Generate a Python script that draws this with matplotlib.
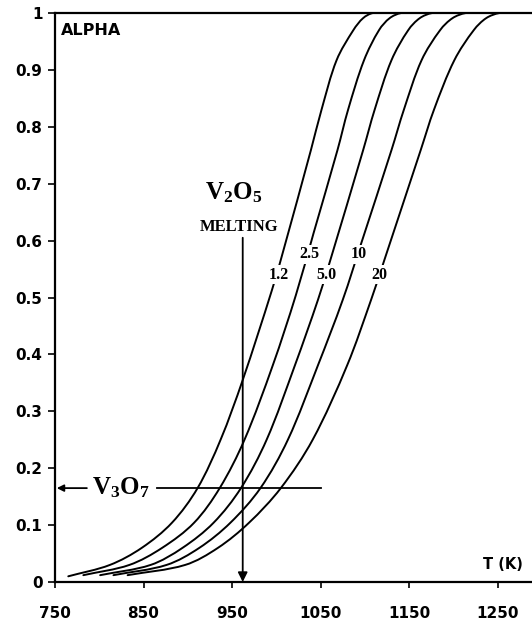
import matplotlib
matplotlib.use("Agg")
import numpy as np
import matplotlib.pyplot as plt
from matplotlib.path import Path
from matplotlib.patches import PathPatch

plt.rcParams['mathtext.fontset'] = 'custom'
plt.rcParams['mathtext.rm'] = 'Liberation Serif:bold'
plt.rcParams['mathtext.it'] = 'Liberation Serif:bold'
plt.rcParams['mathtext.bf'] = 'Liberation Serif:bold'

# Fraction converted (ALPHA) vs temperature for several heating rates
rate_labels = ["1.2", "2.5", "5.0", "10", "20"]

t_12 = [765, 812, 848, 882, 911, 937, 962, 995, 1008, 1039, 1051, 1068, 1087, 1098, 1109, 1125]
a_12 = [0.010, 0.030, 0.060, 0.104, 0.165, 0.250, 0.355, 0.513, 0.583, 0.759, 0.830, 0.917, 0.970, 0.991, 1.0, 1.0]

t_25 = [782, 834, 871, 907, 936, 964, 996, 1022, 1042, 1069, 1081, 1099, 1116, 1128, 1141, 1157]
a_25 = [0.012, 0.030, 0.060, 0.104, 0.165, 0.250, 0.381, 0.504, 0.613, 0.759, 0.830, 0.917, 0.970, 0.991, 1.0, 1.0]

t_50 = [801, 858, 894, 929, 960, 989, 1021, 1047, 1061, 1098, 1111, 1130, 1149, 1162, 1176, 1192]
a_50 = [0.012, 0.030, 0.060, 0.104, 0.165, 0.250, 0.381, 0.496, 0.566, 0.759, 0.830, 0.917, 0.970, 0.991, 1.0, 1.0]

t_10 = [816, 876, 913, 948, 982, 1013, 1047, 1075, 1096, 1130, 1144, 1164, 1185, 1199, 1214, 1230]
a_10 = [0.012, 0.030, 0.060, 0.104, 0.165, 0.250, 0.381, 0.496, 0.596, 0.759, 0.830, 0.917, 0.970, 0.991, 1.0, 1.0]

t_20 = [832, 897, 934, 969, 1005, 1041, 1080, 1107, 1122, 1163, 1178, 1201, 1223, 1237, 1252, 1268]
a_20 = [0.012, 0.030, 0.060, 0.104, 0.165, 0.250, 0.381, 0.496, 0.566, 0.759, 0.830, 0.917, 0.970, 0.991, 1.0, 1.0]

# Where each rate label sits on its curve
label_t = [1003, 1037, 1057, 1093, 1116]
label_a = [0.540, 0.576, 0.540, 0.576, 0.540]

x_ticks = [750, 850, 950, 1050, 1150, 1250]
y_ticks = [0, 0.1, 0.2, 0.3, 0.4, 0.5, 0.6, 0.7, 0.8, 0.9, 1]
y_tick_labels = ["0", "0.1", "0.2", "0.3", "0.4", "0.5", "0.6", "0.7", "0.8", "0.9", "1"]

melt_t = 962        # V2O5 melting point (K)
melt_top = 0.605
v3o7_alpha = 0.165  # V3O7 composition level
v3o7_line = (865, 1050)


def smooth_path(ax, xs, ys):
    """Smooth cubic Bezier through the points, tangents by chord length in display space."""
    P = ax.transData.transform(np.column_stack([xs, ys]))
    n = len(P)
    d = np.hypot(*np.diff(P, axis=0).T)
    m = np.zeros_like(P)
    m[0] = (P[1] - P[0]) / d[0]
    m[-1] = (P[-1] - P[-2]) / d[-1]
    for i in range(1, n - 1):
        m[i] = (P[i + 1] - P[i - 1]) / (d[i - 1] + d[i])
    verts = [P[0]]
    codes = [Path.MOVETO]
    for i in range(n - 1):
        verts += [P[i] + m[i] * d[i] / 3, P[i + 1] - m[i + 1] * d[i] / 3, P[i + 1]]
        codes += [Path.CURVE4] * 3
    verts = ax.transData.inverted().transform(np.array(verts))
    return Path(verts, codes)


fig = plt.figure(figsize=(5.32, 6.20), dpi=100)
ax = fig.add_axes([55 / 532, 38 / 620, 487 / 532, 569 / 620])
ax.set_xlim(750, 1300)
ax.set_ylim(0, 1)

for t, a in [(t_12, a_12), (t_25, a_25), (t_50, a_50), (t_10, a_10), (t_20, a_20)]:
    ax.add_patch(PathPatch(smooth_path(ax, t, a), fill=False, edgecolor='black',
                           lw=1.4, capstyle='round', joinstyle='round'))

for lab, lt, la in zip(rate_labels, label_t, label_a):
    ax.text(lt, la, lab, ha='center', va='center', fontsize=11.5,
            family='Liberation Serif', weight='bold',
            bbox=dict(fc='white', ec='none', pad=1.0))

# V2O5 melting marker
ax.annotate('', xy=(melt_t, 0), xytext=(melt_t, melt_top),
            arrowprops=dict(arrowstyle='-|>', lw=1.3, color='black',
                            mutation_scale=14, shrinkA=0, shrinkB=0))
ax.text(952, 0.684, r'$\mathrm{V_2O_5}$', ha='center', va='center', fontsize=18)
ax.text(958, 0.624, 'MELTING', ha='center', va='center', fontsize=12,
        family='Liberation Serif', weight='bold')

# V3O7 level
ax.plot(v3o7_line, [v3o7_alpha, v3o7_alpha], color='black', lw=1.3)
ax.annotate('', xy=(752, v3o7_alpha), xytext=(786, v3o7_alpha),
            arrowprops=dict(arrowstyle='-|>', lw=1.3, color='black',
                            mutation_scale=10, shrinkA=0, shrinkB=0))
ax.text(824, v3o7_alpha, r'$\mathrm{V_3O_7}$', ha='center', va='center', fontsize=18)

ax.text(0.012, 0.983, 'ALPHA', transform=ax.transAxes, ha='left', va='top',
        fontsize=11.5, family='DejaVu Sans', weight='bold')
ax.text(1233, 0.018, 'T (K)', ha='left', va='bottom', fontsize=10.5,
        family='DejaVu Sans', weight='bold')

ax.set_xticks(x_ticks)
ax.set_xticklabels([str(v) for v in x_ticks])
ax.set_yticks(y_ticks)
ax.set_yticklabels(y_tick_labels)
for lbl in ax.get_xticklabels() + ax.get_yticklabels():
    lbl.set_family('DejaVu Sans')
    lbl.set_weight('bold')
    lbl.set_fontsize(11)
ax.tick_params(axis='x', direction='out', length=4, width=1.2, pad=13)
ax.tick_params(axis='y', direction='out', length=5, width=1.2, pad=4)

ax.spines['right'].set_visible(False)
for s in ['left', 'bottom', 'top']:
    ax.spines[s].set_linewidth(1.6)

fig.savefig('out.png', dpi=100)
